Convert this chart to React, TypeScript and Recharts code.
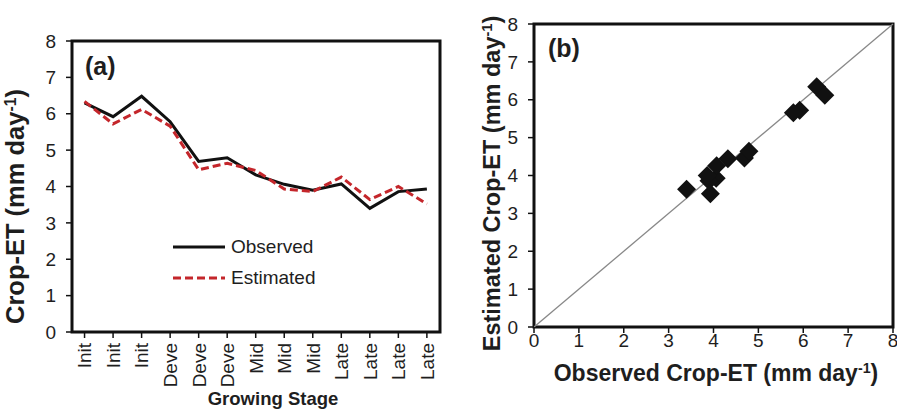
import React from 'react';
import { LineChart, Line, XAxis, YAxis, ScatterChart, Scatter, ReferenceLine, ReferenceArea, Legend, Label } from 'recharts';

const stages = ['Init', 'Init', 'Init', 'Deve', 'Deve', 'Deve', 'Mid', 'Mid', 'Mid', 'Late', 'Late', 'Late', 'Late'];
const observed = [6.3, 5.92, 6.48, 5.78, 4.69, 4.79, 4.32, 4.06, 3.9, 4.07, 3.4, 3.86, 3.93];
const estimated = [6.34, 5.72, 6.12, 5.66, 4.46, 4.64, 4.44, 3.93, 3.86, 4.26, 3.64, 4.0, 3.52];
const yTicks = [0, 1, 2, 3, 4, 5, 6, 7, 8];
const xTicksB = [0, 1, 2, 3, 4, 5, 6, 7, 8];
const stageIdx = stages.map((_, i) => i);
const diagonal = [{ x: 0, y: 0 }, { x: 8, y: 8 }];

const lineData = stages.map((s, i) => ({ idx: i, stage: s, observed: observed[i], estimated: estimated[i] }));
const scatterData = observed.map((o, i) => ({ obs: o, est: estimated[i] }));

const FONT = '"Liberation Sans", Arial, Helvetica, sans-serif';
const TXT = '#1e1e1e';
const FRAME = '#111';
const RED = '#c4262b';

const tickLineStyle = { stroke: FRAME, strokeWidth: 1.5 };
const tickText = { fontSize: 19, fill: TXT, fontFamily: FONT };

const StageTick = (props: any) => {
  const { x, y, payload } = props;
  return (
    <text transform={`translate(${x},${y}) rotate(-90)`} textAnchor="end" dy="0.36em" fontSize={19} fill={TXT} fontFamily={FONT}>
      {stages[payload.value]}
    </text>
  );
};

const Sup = () => (
  <>
    <tspan baselineShift="super" fontSize="0.62em">-1</tspan>
    <tspan>)</tspan>
  </>
);

const makeVTitle = (prefix: string, bx: number, dyc: number, size: number) => (props: any) => {
  const vb = props.viewBox || {};
  const x = vb.x + bx;
  const y = vb.y + vb.height / 2 + dyc;
  return (
    <text transform={`translate(${x},${y}) rotate(-90)`} textAnchor="middle" fontSize={size} fontWeight="bold" fill={TXT} fontFamily={FONT}>
      {prefix}
      <Sup />
    </text>
  );
};

const makeHTitle = (prefix: string, dxc: number, by: number, size: number, sup: boolean) => (props: any) => {
  const vb = props.viewBox || {};
  const x = vb.x + vb.width / 2 + dxc;
  const y = vb.y + by;
  return (
    <text x={x} y={y} textAnchor="middle" fontSize={size} fontWeight="bold" fill={TXT} fontFamily={FONT}>
      {prefix}
      {sup ? <Sup /> : null}
    </text>
  );
};

const makePanelTag = (tag: string, dx: number, dy: number) => (props: any) => {
  const vb = props.viewBox || {};
  return (
    <text x={vb.x + dx} y={vb.y + dy} fontSize={25} fontWeight="bold" fill={TXT} fontFamily={FONT}>
      {tag}
    </text>
  );
};

const Diamond = (props: any) => {
  const { cx, cy } = props;
  const r = 9.5;
  return <polygon points={`${cx},${cy - r} ${cx + r},${cy} ${cx},${cy + r} ${cx - r},${cy}`} fill="#111" />;
};

const LegendBox = () => (
  <div style={{ fontFamily: FONT, fontSize: 19, color: TXT }}>
    <div style={{ display: 'flex', alignItems: 'center', height: 31 }}>
      <svg width={52} height={6} style={{ marginRight: 6 }}>
        <line x1={0} y1={3} x2={52} y2={3} stroke="#111" strokeWidth={3} />
      </svg>
      <span>Observed</span>
    </div>
    <div style={{ display: 'flex', alignItems: 'center', height: 31 }}>
      <svg width={52} height={6} style={{ marginRight: 6 }}>
        <line x1={0} y1={3} x2={52} y2={3} stroke={RED} strokeWidth={3} strokeDasharray="8 4" />
      </svg>
      <span>Estimated</span>
    </div>
  </div>
);

export default function App() {
  return (
    <div style={{ position: 'absolute', left: 0, top: 0, width: 897, height: 411, background: '#fff' }}>
      <div style={{ position: 'absolute', left: 0, top: 0 }}>
        <LineChart width={450} height={411} data={lineData} margin={{ top: 41, right: 10, left: 0, bottom: 0 }}>
          <XAxis
            type="number"
            dataKey="idx"
            domain={[-0.44, 12.46]}
            ticks={stageIdx}
            height={79}
            interval={0}
            allowDataOverflow
            axisLine={false}
            tickLine={tickLineStyle}
            tickSize={6}
            tickMargin={5}
            tick={<StageTick />}
          >
            <Label content={makeHTitle('Growing Stage', 17, 73, 18.5, false)} />
          </XAxis>
          <YAxis
            domain={[0, 8]}
            ticks={yTicks}
            width={72}
            axisLine={false}
            tickLine={tickLineStyle}
            tickSize={6}
            tickMargin={10}
            tick={tickText}
            interval={0}
          >
            <Label content={makeVTitle('Crop-ET (mm day', 24, 20, 25.5)} />
          </YAxis>
          <ReferenceArea
            y1={0}
            y2={8}
            fill="none"
            stroke={FRAME}
            strokeWidth={3}
            ifOverflow="visible"
            label={makePanelTag('(a)', 13, 34)}
          />
          <Legend
            layout="horizontal"
            verticalAlign="middle"
            align="center"
            content={<LegendBox />}
            wrapperStyle={{ position: 'absolute', left: 173, top: 231, width: 160, height: 62 }}
          />
          <Line type="linear" dataKey="observed" stroke="#111" strokeWidth={3} dot={false} isAnimationActive={false} />
          <Line type="linear" dataKey="estimated" stroke={RED} strokeWidth={3} strokeDasharray="8 4" dot={false} isAnimationActive={false} />
        </LineChart>
      </div>
      <div style={{ position: 'absolute', left: 440, top: 0 }}>
        <ScatterChart width={457} height={411} margin={{ top: 24, right: 4, left: 0, bottom: 0 }}>
          <XAxis
            type="number"
            dataKey="obs"
            domain={[0, 8]}
            ticks={xTicksB}
            interval={0}
            height={84}
            axisLine={false}
            tickLine={tickLineStyle}
            tickSize={6}
            tickMargin={1}
            tick={tickText}
          >
            <Label content={makeHTitle('Observed Crop-ET (mm day', 2.5, 54, 23, true)} />
          </XAxis>
          <YAxis
            type="number"
            dataKey="est"
            domain={[0, 8]}
            ticks={yTicks}
            interval={0}
            width={94}
            axisLine={false}
            tickLine={tickLineStyle}
            tickSize={6}
            tickMargin={10}
            tick={tickText}
          >
            <Label content={makeVTitle('Estimated Crop-ET (mm day', 60, 8, 23.5)} />
          </YAxis>
          <ReferenceArea
            x1={0}
            x2={8}
            y1={0}
            y2={8}
            fill="none"
            stroke={FRAME}
            strokeWidth={3}
            ifOverflow="visible"
            label={makePanelTag('(b)', 14, 33)}
          />
          <Scatter data={scatterData} shape={<Diamond />} isAnimationActive={false} />
          <ReferenceLine segment={diagonal} stroke="#888" strokeWidth={1.3} />
        </ScatterChart>
      </div>
    </div>
  );
}
